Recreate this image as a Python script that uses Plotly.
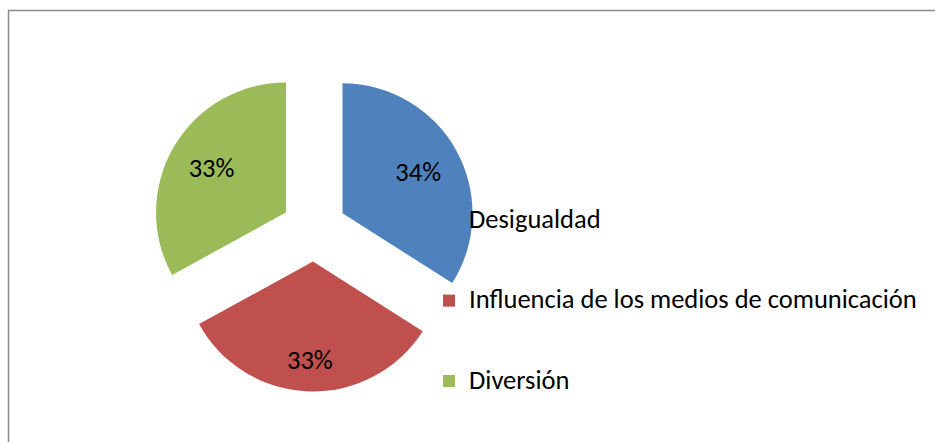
import plotly.graph_objects as go

labels = ["Desigualdad", "Influencia de los medios de comunicación", "Diversión"]
values = [34, 33, 33]
colors = ["#4F81BD", "#C0504D", "#9BBB59"]

FONT = "Carlito, Lato, sans-serif"
TXT = 26.5
W, H = 935, 442

# legend entries: padded with blank lines to reproduce the wide row spacing
legend_labels = [
    "\u00a0<br><span style='font-size:%spx'>" % TXT + lab + "</span><br>\u00a0" for lab in labels
]

dom_x = [151.5 / W, 476.5 / W]
dom_y = [(H - 391.5) / H, (H - 66.5) / H]
pull = 0.25

fig = go.Figure()
# coloured slices + legend
fig.add_trace(go.Pie(
    labels=legend_labels, values=values, sort=False, direction="clockwise", rotation=0,
    marker=dict(colors=colors, line=dict(width=0)), pull=pull,
    textinfo="none", domain=dict(x=dom_x, y=dom_y), showlegend=True,
    hoverinfo="skip",
))
# percentage labels (transparent slices, hole only moves the labels outward)
fig.add_trace(go.Pie(
    labels=legend_labels, values=values, sort=False, direction="clockwise", rotation=0,
    marker=dict(colors=["rgba(0,0,0,0)"] * 3, line=dict(width=0)), pull=pull, hole=0.33,
    texttemplate=["%{percent:.0%}", "", "%{percent:.0%}"], textposition="inside",
    insidetextorientation="horizontal",
    insidetextfont=dict(family=FONT, size=TXT, color="#000000"),
    domain=dict(x=dom_x, y=dom_y), showlegend=False, hoverinfo="skip",
))
fig.add_trace(go.Pie(
    labels=legend_labels, values=values, sort=False, direction="clockwise", rotation=0,
    marker=dict(colors=["rgba(0,0,0,0)"] * 3, line=dict(width=0)), pull=pull, hole=0.52,
    texttemplate=["", "%{percent:.0%}", ""], textposition="inside",
    insidetextorientation="horizontal",
    insidetextfont=dict(family=FONT, size=TXT, color="#000000"),
    domain=dict(x=dom_x, y=dom_y), showlegend=False, hoverinfo="skip",
))

fig.update_layout(
    width=W, height=H, autosize=False,
    margin=dict(l=0, r=0, t=0, b=0),
    paper_bgcolor="white", plot_bgcolor="white",
    font=dict(family=FONT, size=TXT, color="#000000"),
    legend=dict(
        x=429 / W, xanchor="left", y=1 - 175 / H, yanchor="top",
        font=dict(family=FONT, size=19.85, color="#000000"),
        bgcolor="rgba(0,0,0,0)", borderwidth=0, traceorder="normal",
    ),
    shapes=[dict(
        type="rect", xref="paper", yref="paper",
        x0=8.5 / W, x1=1.05, y0=-0.05, y1=1 - 10.5 / H,
        line=dict(color="#8C8C8C", width=1.5), layer="below",
    )],
)

fig.write_html("out.html", config={"displayModeBar": False},
               post_script="document.body.style.margin='0';document.body.style.overflow='hidden';")
